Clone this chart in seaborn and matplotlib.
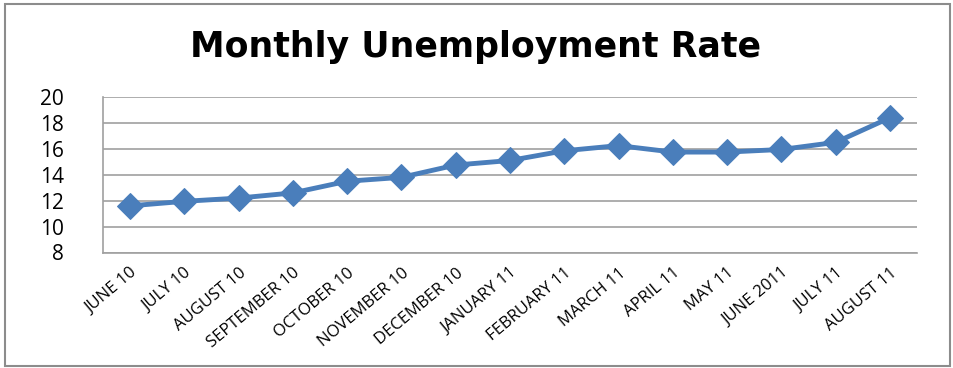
import matplotlib
matplotlib.use("Agg")
import matplotlib.pyplot as plt
import seaborn as sns
import pandas as pd
from matplotlib.patches import Rectangle

months = ["JUNE 10", "JULY 10", "AUGUST 10", "SEPTEMBER 10", "OCTOBER 10",
          "NOVEMBER 10", "DECEMBER 10", "JANUARY 11", "FEBRUARY 11", "MARCH 11",
          "APRIL 11", "MAY 11", "JUNE 2011", "JULY 11", "AUGUST 11"]
rates = [11.6, 11.95, 12.2, 12.6, 13.5, 13.8, 14.75, 15.1, 15.85, 16.25,
         15.75, 15.75, 15.95, 16.5, 18.4]
yticks = [8, 10, 12, 14, 16, 18, 20]
title = "Monthly Unemployment Rate"

sns.set_style("white")
plt.rcParams['font.family'] = ['Open Sans', 'DejaVu Sans']

df = pd.DataFrame({"pos": range(len(months)), "rate": rates})

fig = plt.figure(figsize=(9.54, 3.68), dpi=100)
ax = fig.add_axes([103/954, 1 - 252.5/368, (917-103)/954, (252.5-97)/368])

sns.lineplot(data=df, x="pos", y="rate", ax=ax, color="#4a7ebb", linewidth=3.5,
             marker="D", markersize=13, markeredgecolor="#4a7ebb", sort=False)

ax.set_xlim(-0.5, len(months) - 0.5)
ax.set_ylim(8, 20)
ax.set_yticks(yticks)
ax.set_yticklabels([str(t) for t in yticks], fontsize=15, color="black")
ax.yaxis.grid(True, color="#a0a0a0", linewidth=1.2)
ax.set_axisbelow(True)
ax.set_xticks(range(len(months)))
ax.set_xticklabels(months, rotation=40, ha="right", rotation_mode="anchor",
                   fontsize=12, color="black")
ax.tick_params(axis="x", length=0, pad=9)
ax.tick_params(axis="y", length=0, pad=28)
ax.set_xlabel("")
ax.set_ylabel("")
for s in ["top", "right"]:
    ax.spines[s].set_visible(False)
ax.spines["left"].set_color("#a0a0a0")
ax.spines["bottom"].set_color("#a0a0a0")
ax.spines["left"].set_linewidth(1.2)
ax.spines["bottom"].set_linewidth(1.2)

fig.text(476/954, 1 - 47/368, title, ha="center", va="center", color="black",
         fontsize=25, fontweight="bold", family=["DejaVu Sans"])

fig.patches.append(Rectangle((5/954, 2/368), 945/954, 362/368, transform=fig.transFigure,
                             fill=False, edgecolor="#8c8c8c", linewidth=1.5))

fig.savefig("out.png", dpi=100)
